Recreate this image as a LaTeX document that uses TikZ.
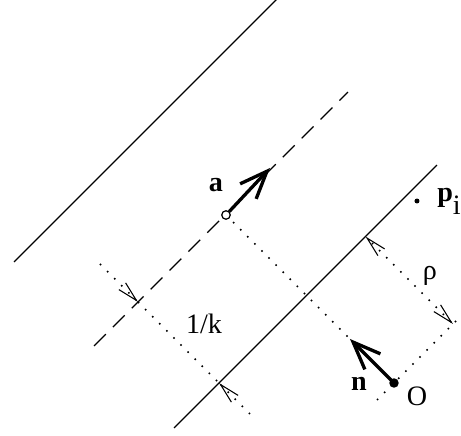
\documentclass[tikz,border=0pt]{standalone}
\usepackage{fontspec}
\setmainfont{Liberation Serif}
\usetikzlibrary{arrows.meta}

\begin{document}
\begin{tikzpicture}[
    x=0.02cm, y=-0.02cm,
    line/.style={line width=0.75pt},
    dashline/.style={line width=0.75pt, dash pattern=on 9.5pt off 5.7pt},
    guide/.style={line width=0.9pt, dash pattern=on 0.9pt off 4.8pt},
    dimtip/.tip={Straight Barb[length=0.4cm, width=0.19cm, line width=0.6pt]},
    dimarrow/.style={guide, -dimtip},
    vec/.style={line width=1.9pt, -{Straight Barb[length=0.55cm, width=0.44cm]}},
    lbl/.style={font=\fontsize{16}{18}\selectfont, inner sep=0pt},
    bold/.style={font=\fontsize{16}{18}\selectfont\bfseries, inner sep=0pt}
]
    \useasboundingbox (0,0) rectangle (461,436);

    % key points
    \coordinate (O) at (394,383);
    \coordinate (a) at (226,215);
    \coordinate (atip) at (270,168);
    \coordinate (ntip) at (350,339);
    \coordinate (corner) at (453,324);
    \coordinate (rhofoot) at (365.5,236.5);
    \coordinate (kstart) at (100,264);
    \coordinate (kend) at (250,414);
    \coordinate (kdash) at (138,302);
    \coordinate (ksolid) at (219,383);

    % the three parallel lines
    \coordinate (top1) at (14,262);
    \coordinate (top2) at (277,-1);
    \coordinate (mid1) at (94,346);
    \coordinate (mid2) at (348,92);
    \coordinate (low1) at (174,428);
    \coordinate (low2) at (437,165);
    \draw[line] (top1) -- (top2);
    \draw[dashline] (mid1) -- (mid2);
    \draw[line] (low1) -- (low2);

    % dotted guides
    \draw[guide] (a) -- (O);
    \coordinate (along1) at (377,400);
    \coordinate (along2) at (460,317);
    \draw[guide] (along1) -- (along2);
    \draw[dimtip-dimtip, guide] (corner) -- (rhofoot);
    \draw[dimarrow] (kstart) -- (kdash);
    \draw[guide] (kdash) -- (ksolid);
    \draw[dimarrow] (kend) -- (ksolid);

    % points and vectors
    \node[circle, draw, line width=0.7pt, fill=white, inner sep=0pt, minimum size=0.17cm] (acirc) at (a) {};
    \draw[vec] (acirc) -- (atip);
    \node[circle, fill, inner sep=0pt, minimum size=0.19cm] (odot) at (O) {};
    \draw[vec] (odot.center) -- (ntip);
    \node[circle, fill, inner sep=0pt, minimum size=0.1cm] (pdot) at (417,201) {};

    % labels
    \node[bold] (alabel) at (216,185) {a};
    \node[bold] (nlabel) at (359,384) {n};
    \node[lbl] (olabel) at (417,396) {O};
    \node[lbl] (rholabel) at (430,276) {ρ};
    \node[lbl] (klabel) at (204,324) {1/k};
    \node[bold, anchor=base west] (plabel) at (437,202) {p\raisebox{-7pt}{\mdseries i}};
\end{tikzpicture}
\end{document}
